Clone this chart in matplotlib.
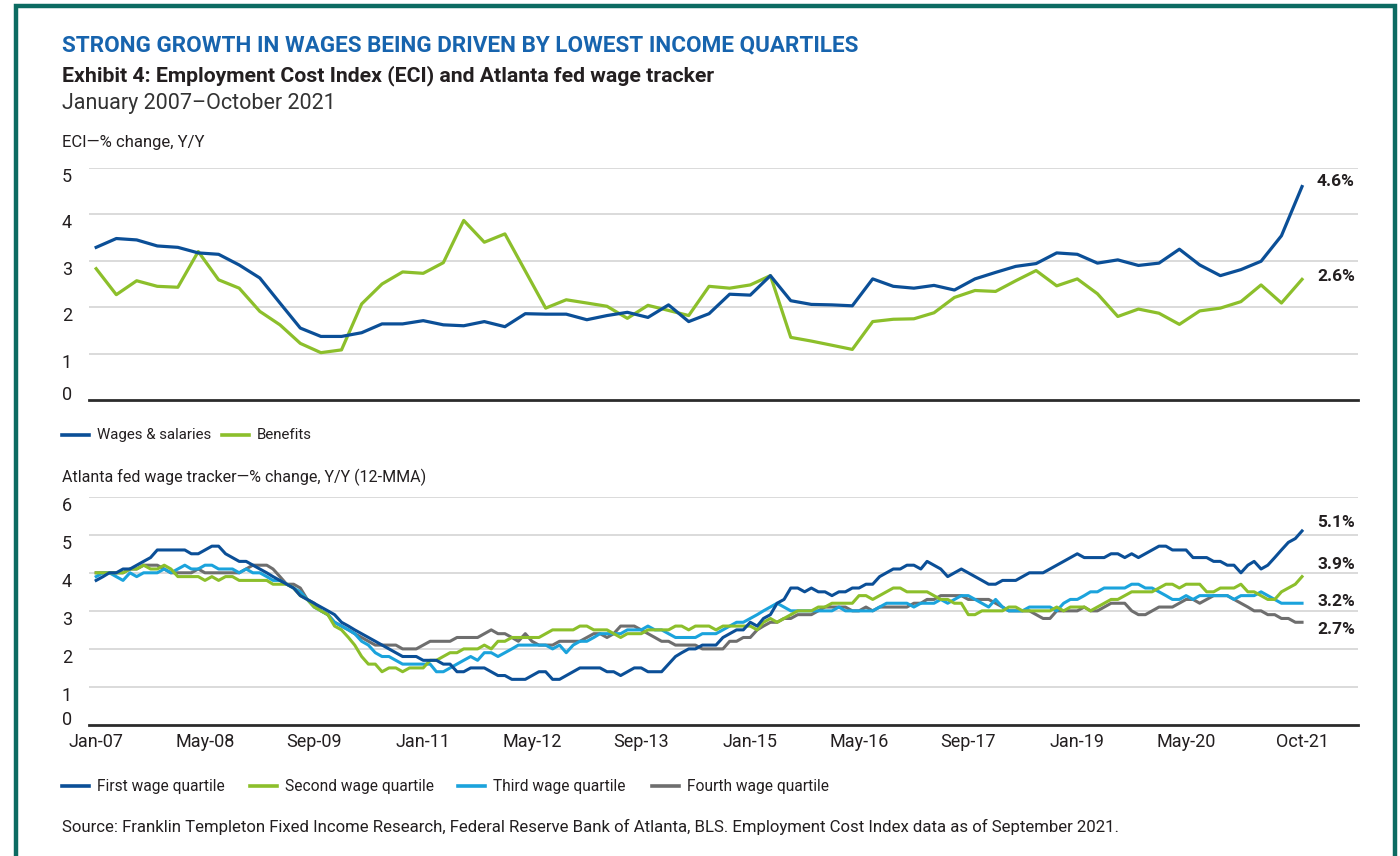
import numpy as np
import pandas as pd
import matplotlib.pyplot as plt
from matplotlib.patches import Rectangle
from matplotlib.lines import Line2D
from matplotlib.transforms import blended_transform_factory

W, H = 1400, 856
plt.rcParams['font.family'] = ['Roboto', 'DejaVu Sans']

# ECI, % change Y/Y, quarterly Jan-07 .. Oct-21
eci_wages = [3.29, 3.48, 3.45, 3.32, 3.29, 3.17, 3.14, 2.91, 2.63, 2.09, 1.55, 1.37, 1.37, 1.45, 1.64,
             1.64, 1.71, 1.62, 1.60, 1.69, 1.58,
             1.86, 1.85, 1.85, 1.73, 1.82, 1.89, 1.78, 2.05, 1.69, 1.86, 2.28, 2.26, 2.68, 2.14,
             2.06, 2.05, 2.03, 2.61, 2.45,
             2.41, 2.47, 2.37, 2.61, 2.75, 2.88, 2.94, 3.17, 3.14, 2.95, 3.02, 2.90, 2.95, 3.25,
             2.91, 2.68, 2.81, 2.99, 3.54, 4.60]
eci_benefits = [2.83, 2.27, 2.57, 2.45, 2.43, 3.20, 2.59, 2.41, 1.91, 1.62, 1.22, 1.02, 1.08, 2.07, 2.50,
                2.76, 2.73, 2.96, 3.87, 3.40, 3.58,
                2.78, 1.98, 2.16, 2.09, 2.02, 1.76, 2.04, 1.93, 1.82, 2.45, 2.41, 2.48, 2.68, 1.35,
                1.27, 1.18, 1.09, 1.69, 1.74,
                1.75, 1.88, 2.21, 2.36, 2.34, 2.57, 2.79, 2.46, 2.61, 2.29, 1.80, 1.96, 1.87, 1.63,
                1.92, 1.98, 2.12, 2.48, 2.09, 2.60]

# Atlanta fed wage tracker, % change Y/Y (12-MMA), monthly Jan-07 .. Oct-21
first_q = [3.8, 3.9, 4.0, 4.0, 4.1, 4.1, 4.2, 4.3, 4.4, 4.6, 4.6, 4.6, 4.6, 4.6, 4.5, 4.5, 4.6, 4.7, 4.7, 4.5,
           4.4, 4.3, 4.3, 4.2, 4.1, 4.0, 3.9, 3.8, 3.7, 3.6, 3.4, 3.3, 3.2, 3.1, 3.0, 2.9, 2.7, 2.6, 2.5, 2.4,
           2.3, 2.2, 2.1, 2.0, 1.9, 1.8,
           1.8, 1.8, 1.7, 1.7, 1.7, 1.6, 1.6, 1.4, 1.4, 1.5, 1.5, 1.5, 1.4, 1.3, 1.3, 1.2, 1.2, 1.2, 1.3, 1.4,
           1.4, 1.2, 1.2, 1.3, 1.4, 1.5, 1.5, 1.5, 1.5, 1.4, 1.4, 1.3, 1.4, 1.5, 1.5, 1.4, 1.4, 1.4, 1.6, 1.8,
           1.9, 2.0, 2.0, 2.1, 2.1,
           2.1, 2.3, 2.4, 2.5, 2.5, 2.7, 2.6, 2.8, 2.9, 3.2, 3.3, 3.6, 3.6, 3.5, 3.6, 3.5, 3.5, 3.4, 3.5, 3.5,
           3.6, 3.6, 3.7, 3.7, 3.9, 4.0, 4.1, 4.1, 4.2, 4.2, 4.1, 4.3, 4.2, 4.1, 3.9, 4.0, 4.1, 4.0, 3.9, 3.8,
           3.7, 3.7, 3.8, 3.8, 3.8, 3.9,
           4.0, 4.0, 4.0, 4.1, 4.2, 4.3, 4.4, 4.5, 4.4, 4.4, 4.4, 4.4, 4.5, 4.5, 4.4, 4.5, 4.4, 4.5, 4.6, 4.7,
           4.7, 4.6, 4.6, 4.6, 4.4, 4.4, 4.4, 4.3, 4.3, 4.2, 4.2, 4.0, 4.2, 4.3, 4.1, 4.2, 4.4, 4.6, 4.8, 4.9,
           5.1]
second_q = [4.0, 4.0, 4.0, 4.0, 4.0, 4.1, 4.1, 4.2, 4.1, 4.1, 4.2, 4.1, 3.9, 3.9, 3.9, 3.9, 3.8, 3.9, 3.8, 3.9,
            3.9, 3.8, 3.8, 3.8, 3.8, 3.8, 3.7, 3.7, 3.7, 3.6, 3.4, 3.3, 3.1, 3.0, 2.9, 2.6, 2.5, 2.3, 2.1, 1.8,
            1.6, 1.6, 1.4, 1.5, 1.5, 1.4,
            1.5, 1.5, 1.5, 1.7, 1.7, 1.8, 1.9, 1.9, 2.0, 2.0, 2.0, 2.1, 2.0, 2.2, 2.2, 2.3, 2.3, 2.3, 2.3, 2.3,
            2.4, 2.5, 2.5, 2.5, 2.5, 2.6, 2.6, 2.5, 2.5, 2.5, 2.4, 2.3, 2.4, 2.4, 2.4, 2.5, 2.5, 2.5, 2.5, 2.6,
            2.6, 2.5, 2.6, 2.6, 2.6,
            2.5, 2.6, 2.6, 2.6, 2.6, 2.6, 2.5, 2.7, 2.8, 2.7, 2.8, 2.9, 3.0, 3.0, 3.0, 3.1, 3.1, 3.2, 3.2, 3.2,
            3.2, 3.4, 3.4, 3.3, 3.4, 3.5, 3.6, 3.6, 3.5, 3.5, 3.5, 3.5, 3.4, 3.3, 3.3, 3.2, 3.2, 2.9, 2.9, 3.0,
            3.0, 3.0, 3.0, 3.1, 3.1, 3.0,
            3.0, 3.0, 3.0, 3.0, 3.1, 3.0, 3.1, 3.1, 3.1, 3.0, 3.1, 3.2, 3.3, 3.3, 3.4, 3.5, 3.5, 3.5, 3.5, 3.6,
            3.7, 3.7, 3.6, 3.7, 3.7, 3.7, 3.5, 3.5, 3.6, 3.6, 3.6, 3.7, 3.5, 3.5, 3.4, 3.3, 3.3, 3.5, 3.6, 3.7,
            3.9]
third_q = [3.9, 4.0, 4.0, 3.9, 3.8, 4.0, 3.9, 4.0, 4.0, 4.0, 4.1, 4.0, 4.1, 4.2, 4.1, 4.1, 4.2, 4.2, 4.1, 4.1,
           4.1, 4.0, 4.1, 4.0, 4.0, 3.9, 3.8, 3.8, 3.7, 3.6, 3.5, 3.3, 3.1, 3.0, 2.9, 2.7, 2.6, 2.5, 2.4, 2.2,
           2.1, 1.9, 1.8, 1.8, 1.7, 1.6,
           1.6, 1.6, 1.6, 1.6, 1.4, 1.4, 1.5, 1.6, 1.7, 1.8, 1.7, 1.9, 1.9, 1.8, 1.9, 2.0, 2.1, 2.1, 2.1, 2.1,
           2.1, 2.0, 2.1, 1.9, 2.1, 2.2, 2.2, 2.3, 2.4, 2.4, 2.4, 2.4, 2.5, 2.5, 2.5, 2.6, 2.5, 2.5, 2.4, 2.3,
           2.3, 2.3, 2.3, 2.4, 2.4,
           2.4, 2.5, 2.6, 2.7, 2.7, 2.8, 2.9, 3.0, 3.1, 3.2, 3.1, 3.0, 3.0, 3.0, 3.0, 3.0, 3.0, 3.0, 3.1, 3.0,
           3.0, 3.0, 3.0, 3.0, 3.1, 3.2, 3.2, 3.2, 3.2, 3.1, 3.2, 3.2, 3.2, 3.3, 3.2, 3.3, 3.4, 3.4, 3.3, 3.2,
           3.1, 3.3, 3.1, 3.0, 3.0, 3.0,
           3.1, 3.1, 3.1, 3.1, 3.0, 3.2, 3.3, 3.3, 3.4, 3.5, 3.5, 3.6, 3.6, 3.6, 3.6, 3.7, 3.7, 3.6, 3.6, 3.5,
           3.4, 3.3, 3.3, 3.4, 3.3, 3.4, 3.4, 3.4, 3.4, 3.4, 3.3, 3.4, 3.4, 3.4, 3.5, 3.4, 3.3, 3.2, 3.2, 3.2,
           3.2]
fourth_q = [4.0, 4.0, 4.0, 4.0, 4.0, 4.1, 4.1, 4.2, 4.2, 4.2, 4.1, 4.0, 4.0, 4.0, 4.0, 4.1, 4.0, 4.0, 4.0, 4.0,
            4.0, 4.0, 4.1, 4.2, 4.2, 4.2, 4.1, 3.9, 3.7, 3.7, 3.6, 3.3, 3.2, 3.0, 2.9, 2.7, 2.6, 2.5, 2.4, 2.3,
            2.2, 2.1, 2.1, 2.1, 2.1, 2.0,
            2.0, 2.0, 2.1, 2.2, 2.2, 2.2, 2.2, 2.3, 2.3, 2.3, 2.3, 2.4, 2.5, 2.4, 2.4, 2.3, 2.2, 2.4, 2.2, 2.1,
            2.1, 2.1, 2.2, 2.2, 2.2, 2.2, 2.3, 2.4, 2.4, 2.3, 2.4, 2.6, 2.6, 2.6, 2.5, 2.4, 2.3, 2.2, 2.2, 2.1,
            2.1, 2.1, 2.1, 2.0, 2.0,
            2.0, 2.0, 2.2, 2.2, 2.3, 2.3, 2.5, 2.6, 2.7, 2.7, 2.8, 2.8, 2.9, 2.9, 2.9, 3.0, 3.1, 3.1, 3.1, 3.1,
            3.0, 3.0, 3.1, 3.0, 3.1, 3.1, 3.1, 3.1, 3.1, 3.2, 3.2, 3.3, 3.3, 3.4, 3.4, 3.4, 3.4, 3.3, 3.3, 3.3,
            3.3, 3.2, 3.1, 3.0, 3.0, 3.0,
            3.0, 2.9, 2.8, 2.8, 3.0, 3.0, 3.0, 3.0, 3.1, 3.0, 3.0, 3.1, 3.2, 3.2, 3.2, 3.0, 2.9, 2.9, 3.0, 3.1,
            3.1, 3.1, 3.2, 3.3, 3.3, 3.2, 3.3, 3.4, 3.4, 3.4, 3.3, 3.2, 3.1, 3.0, 3.0, 2.9, 2.9, 2.8, 2.8, 2.7,
            2.7]

tick_labels = ["Jan-07", "May-08", "Sep-09", "Jan-11", "May-12", "Sep-13", "Jan-15", "May-16",
               "Sep-17", "Jan-19", "May-20", "Oct-21"]
eci_names = ["Wages & salaries", "Benefits"]
q_names = ["First wage quartile", "Second wage quartile", "Third wage quartile", "Fourth wage quartile"]
eci_end_labels = ["4.6%", "2.6%"]
q_end_labels = ["5.1%", "3.9%", "3.2%", "2.7%"]

DARK = "#0b4f97"
GREEN = "#8cbf2b"
LIGHT = "#1ba3dc"
GRAY = "#6e6e6e"
TXT = "#231f20"
GRID = "#dadada"

months = pd.date_range("2007-01-01", periods=len(first_q), freq="MS")
quarters = pd.date_range("2007-01-01", periods=len(eci_wages), freq="3MS")
ticks = pd.to_datetime(tick_labels, format="%b-%y")
xlim = (pd.Timestamp("2006-11-30"), pd.Timestamp("2022-06-08"))
label_x = pd.Timestamp("2021-12-07")


def fx(px):
    return px / W


def fy(py):
    return 1 - py / H


fig = plt.figure(figsize=(W / 100, H / 100), dpi=100)
fig.patch.set_facecolor("white")

# frame
fig.add_artist(Rectangle((fx(16), -0.1), fx(1395) - fx(16), fy(6) + 0.1,
                         transform=fig.transFigure, fill=False, edgecolor="#0c6b62", lw=3.2))

fig.text(fx(62), fy(45), "STRONG GROWTH IN WAGES BEING DRIVEN BY LOWEST INCOME QUARTILES",
         color="#1764ae", fontsize=16.2, fontweight="bold", va="center")
fig.text(fx(62), fy(76), "Exhibit 4: Employment Cost Index (ECI) and Atlanta fed wage tracker",
         color=TXT, fontsize=15.3, fontweight="bold", va="center")
fig.text(fx(62), fy(103), "January 2007\u2013October 2021", color="#333333", fontsize=15.5, va="center")
fig.text(fx(62), fy(143), "ECI\u2014% change, Y/Y", color=TXT, fontsize=12, va="center")
fig.text(fx(62), fy(477), "Atlanta fed wage tracker\u2014% change, Y/Y (12-MMA)", color=TXT,
         fontsize=11.5, va="center")
fig.text(fx(62), fy(827), "Source: Franklin Templeton Fixed Income Research, Federal Reserve Bank of "
         "Atlanta, BLS. Employment Cost Index data as of September 2021.", color=TXT, fontsize=12.1,
         va="center")


def style_axes(ax, ymax):
    ax.set_xlim(*xlim)
    ax.set_ylim(0, ymax)
    for s in ["top", "right", "left"]:
        ax.spines[s].set_visible(False)
    ax.spines["bottom"].set_color("#2b2b2b")
    ax.spines["bottom"].set_linewidth(2)
    ax.spines["bottom"].set_zorder(5)
    ax.set_yticks(range(1, ymax + 1))
    ax.yaxis.grid(True, color=GRID, lw=1.4)
    ax.set_axisbelow(True)
    ax.tick_params(axis="y", length=0, labelleft=False)
    # y labels sit at the page margin, hanging just below each gridline
    tr = blended_transform_factory(fig.transFigure, ax.transData)
    for v in range(0, ymax + 1):
        ax.text(fx(62), v, str(v), transform=tr, fontsize=13, color=TXT,
                va="top" if v > 0 else "baseline", ha="left")


# top panel
ax1 = fig.add_axes([fx(89), fy(400), fx(1358) - fx(89), fy(168) - fy(400)])
ax1.plot(quarters, eci_wages, color=DARK, lw=2.3, solid_joinstyle="round", zorder=3)
ax1.plot(quarters, eci_benefits, color=GREEN, lw=2.3, solid_joinstyle="round", zorder=2)
ax1.set_xticks([])
style_axes(ax1, 5)

# bottom panel
ax2 = fig.add_axes([fx(89), fy(725), fx(1358) - fx(89), fy(496.7) - fy(725)])
for vals, c, z in [(fourth_q, GRAY, 2), (third_q, LIGHT, 3), (second_q, GREEN, 4), (first_q, DARK, 5)]:
    ax2.plot(months, vals, color=c, lw=2.2, solid_joinstyle="round", zorder=z)
ax2.set_xticks(ticks)
ax2.set_xticklabels(tick_labels, fontsize=13, color=TXT)
ax2.tick_params(axis="x", length=0, pad=6)
style_axes(ax2, 6)

# end value labels
for lab, yv in zip(eci_end_labels, [4.70, 2.67]):
    ax1.text(label_x, yv, lab, fontsize=12.5, fontweight="bold", color=TXT,
             va="center", ha="left", clip_on=False)
for lab, yv in zip(q_end_labels, [5.31, 4.23, 3.25, 2.52]):
    ax2.text(label_x, yv, lab, fontsize=12.5, fontweight="bold", color=TXT,
             va="center", ha="left", clip_on=False)


# legends drawn by hand
def legend_item(x0, y, color, label, size):
    fig.add_artist(Line2D([fx(x0), fx(x0 + 27)], [fy(y), fy(y)], color=color, lw=2.6,
                          transform=fig.transFigure))
    fig.text(fx(x0 + 35), fy(y), label, fontsize=size, color=TXT, va="center")


for x0, c, lab in zip([62, 222], [DARK, GREEN], eci_names):
    legend_item(x0, 435, c, lab, 10.8)
for x0, c, lab in zip([62, 250, 458, 652], [DARK, GREEN, LIGHT, GRAY], q_names):
    legend_item(x0, 786, c, lab, 11.2)

fig.savefig("out.png", dpi=100, facecolor="white")
